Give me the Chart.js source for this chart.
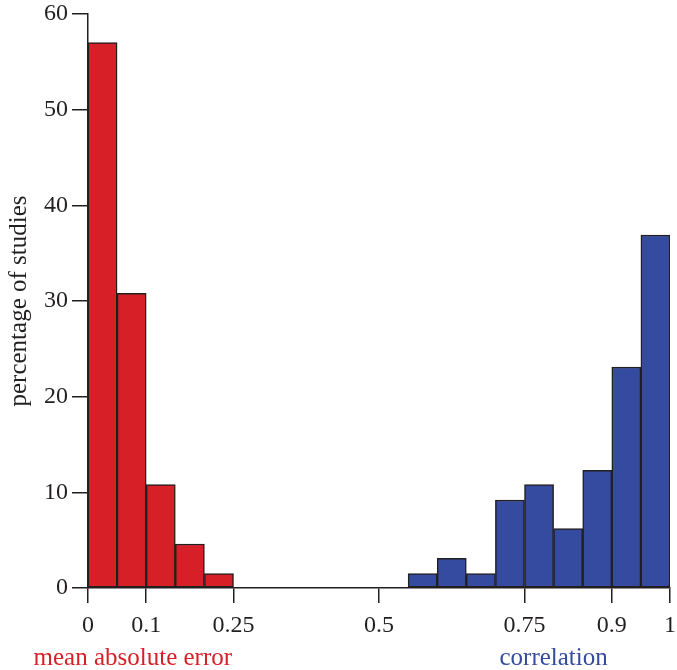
<!DOCTYPE html>
<html>
<head>
<meta charset="utf-8">
<script src="https://cdn.jsdelivr.net/npm/chart.js@4/dist/chart.umd.min.js"></script>
<style>
  html, body { margin: 0; padding: 0; background: #fff; }
  #wrap { width: 677px; height: 670px; }
</style>
</head>
<body>
<div id="wrap"><canvas id="histChart" width="677" height="670"></canvas></div>
<script>
// Données (début de chaque classe, largeur 0.05)
const binWidth = 0.05;
const maeBins = [0, 0.05, 0.1, 0.15, 0.2];
const maeValues = [57, 30.8, 10.8, 4.6, 1.5];
const corrBins = [0.55, 0.6, 0.65, 0.7, 0.75, 0.8, 0.85, 0.9, 0.95];
const corrValues = [1.5, 3.1, 1.5, 9.2, 10.8, 6.2, 12.3, 23.1, 36.9];
const xTicks = [0, 0.1, 0.25, 0.5, 0.75, 0.9, 1];
const yTicks = [0, 10, 20, 30, 40, 50, 60];

const red = '#d71f27';
const blue = '#354ba0';
const ink = '#231f20';
const serif = "'Liberation Serif', 'DejaVu Serif', serif";

function toPoints(bins, values) {
    return bins.map((b, i) => ({ x: +(b + binWidth / 2).toFixed(4), y: values[i] }));
}

// Titres sous l'axe x (en couleur)
const axisLabels = {
    id: 'axisLabels',
    afterDraw(chart) {
        const ctx = chart.ctx;
        const x = chart.scales.x;
        ctx.save();
        ctx.font = '25px ' + serif;
        ctx.textAlign = 'center';
        ctx.textBaseline = 'alphabetic';
        ctx.fillStyle = red;
        ctx.fillText('mean absolute error', x.getPixelForValue(0.077), 665);
        ctx.fillStyle = blue;
        ctx.fillText('correlation', x.getPixelForValue(0.8), 665);
        ctx.restore();
    }
};

document.addEventListener('DOMContentLoaded', () => {
    const ctx = document.getElementById('histChart').getContext('2d');
    new Chart(ctx, {
        type: 'bar',
        data: {
            datasets: [{
                label: 'mean absolute error',
                data: toPoints(maeBins, maeValues),
                backgroundColor: red,
                borderColor: ink,
                borderWidth: 1.5,
                borderSkipped: false,
                grouped: false,
                barPercentage: 1,
                categoryPercentage: 1
            }, {
                label: 'correlation',
                data: toPoints(corrBins, corrValues),
                backgroundColor: blue,
                borderColor: ink,
                borderWidth: 1.5,
                borderSkipped: false,
                grouped: false,
                barPercentage: 1,
                categoryPercentage: 1
            }]
        },
        options: {
            responsive: false,
            animation: false,
            devicePixelRatio: 1,
            layout: { padding: { top: 14, right: 7, left: 0, bottom: 0 } },
            plugins: {
                legend: { display: false },
                tooltip: { enabled: false }
            },
            scales: {
                x: {
                    type: 'linear',
                    min: 0,
                    max: 1,
                    offset: false,
                    afterBuildTicks: (scale) => {
                        scale.ticks = xTicks.map(v => ({ value: v }));
                    },
                    afterFit: (scale) => {
                        scale.height = 82;
                        scale.paddingLeft = 0;
                        scale.paddingRight = 0;
                    },
                    grid: {
                        offset: false,
                        drawOnChartArea: false,
                        drawTicks: true,
                        tickLength: 15,
                        color: ink,
                        lineWidth: 1.5
                    },
                    border: { display: true, color: ink, width: 1.5 },
                    ticks: {
                        color: ink,
                        padding: 8,
                        maxRotation: 0,
                        autoSkip: false,
                        font: { family: serif, size: 24 },
                        callback: (v) => String(v)
                    }
                },
                y: {
                    min: 0,
                    max: 60,
                    afterBuildTicks: (scale) => {
                        scale.ticks = yTicks.map(v => ({ value: v }));
                    },
                    afterFit: (scale) => {
                        scale.width = 88;
                        scale.paddingTop = 0;
                        scale.paddingBottom = 0;
                    },
                    grid: {
                        drawOnChartArea: false,
                        drawTicks: true,
                        tickLength: 16,
                        color: ink,
                        lineWidth: 1.5
                    },
                    border: { display: true, color: ink, width: 1.5 },
                    ticks: {
                        color: ink,
                        padding: 4,
                        font: { family: serif, size: 24 }
                    },
                    title: {
                        display: true,
                        text: 'percentage of studies',
                        color: ink,
                        padding: { top: 4, bottom: 0 },
                        font: { family: serif, size: 25 }
                    }
                }
            }
        },
        plugins: [axisLabels]
    });
});
</script>
</body>
</html>
